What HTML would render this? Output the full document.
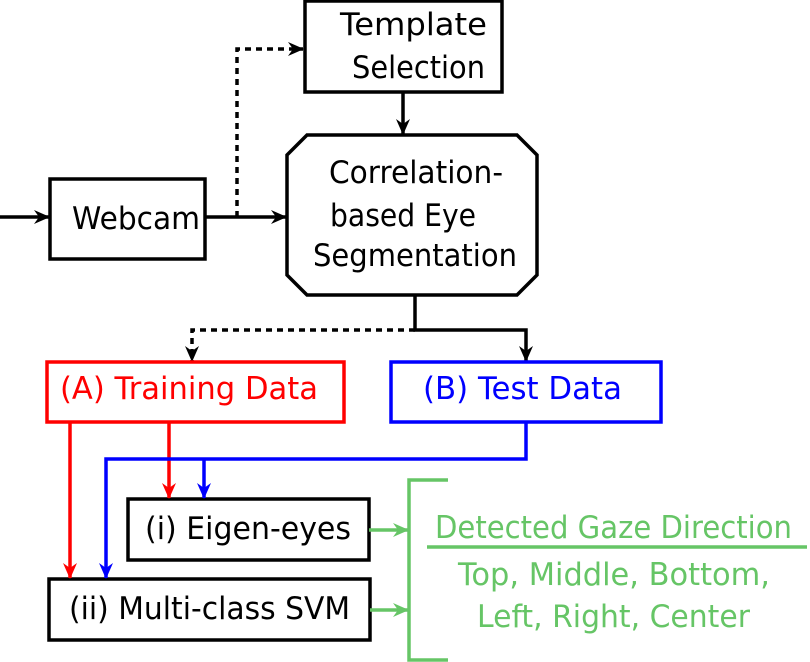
<!DOCTYPE html>
<html><head><meta charset="utf-8"><style>
html,body{margin:0;padding:0;background:#fff;}
svg{display:block;}
text{font-family:"DejaVu Sans","Liberation Sans",sans-serif;font-size:31px;}
</style></head><body>
<svg width="810" height="662" viewBox="0 0 810 662" xmlns="http://www.w3.org/2000/svg">
<defs>
<marker id="ak" markerWidth="16" markerHeight="14" refX="15" refY="7" orient="auto" markerUnits="userSpaceOnUse" viewBox="0 0 16 14"><path d="M0,0 L16,7 L0,14 L5,7 z" fill="#000"/></marker>
<marker id="ar" markerWidth="16" markerHeight="14" refX="15" refY="7" orient="auto" markerUnits="userSpaceOnUse" viewBox="0 0 16 14"><path d="M0,0 L16,7 L0,14 L5,7 z" fill="#f00"/></marker>
<marker id="ab" markerWidth="16" markerHeight="14" refX="15" refY="7" orient="auto" markerUnits="userSpaceOnUse" viewBox="0 0 16 14"><path d="M0,0 L16,7 L0,14 L5,7 z" fill="#00f"/></marker>
<marker id="ag" markerWidth="16" markerHeight="14" refX="15" refY="7" orient="auto" markerUnits="userSpaceOnUse" viewBox="0 0 16 14"><path d="M0,0 L16,7 L0,14 L5,7 z" fill="#66c566"/></marker>
</defs>
<g fill="none" stroke="#000" stroke-width="3.5">
<rect x="305" y="1" width="197" height="91"/>
<rect x="50" y="179" width="155" height="80"/>
<path d="M307,135 L517,135 L537,155 L537,275 L517,295 L307,295 L287,275 L287,155 Z"/>
<line x1="0" y1="217" x2="49" y2="217" marker-end="url(#ak)"/>
<line x1="205" y1="217" x2="286" y2="217" marker-end="url(#ak)"/>
<polyline points="237,217 237,49 303,49" stroke-dasharray="6,5" marker-end="url(#ak)"/>
<line x1="403" y1="92" x2="403" y2="134" marker-end="url(#ak)"/>
<polyline points="415,295 415,330 526,330 526,361" marker-end="url(#ak)"/>
<polyline points="415,330 192,330 192,361" stroke-dasharray="6,5" marker-end="url(#ak)"/>
<rect x="128" y="499" width="241" height="61"/>
<rect x="49" y="579" width="321" height="61"/>
</g>
<g fill="none" stroke="#f00" stroke-width="3.5">
<rect x="47" y="362" width="297" height="60"/>
<line x1="70" y1="422" x2="70" y2="578" marker-end="url(#ar)"/>
<line x1="169" y1="422" x2="169" y2="498" marker-end="url(#ar)"/>
</g>
<g fill="none" stroke="#00f" stroke-width="3.5">
<rect x="391" y="362" width="270" height="60"/>
<polyline points="526,422 526,459 106,459 106,578" marker-end="url(#ab)"/>
<polyline points="204,459 204,498" marker-end="url(#ab)"/>
</g>
<g fill="none" stroke="#66c566" stroke-width="3.5">
<line x1="369" y1="530" x2="408" y2="530" marker-end="url(#ag)"/>
<line x1="370" y1="610" x2="408" y2="610" marker-end="url(#ag)"/>
<polyline points="448,480 409,480 409,660 448,660"/>
<line x1="427" y1="547" x2="807" y2="547"/>
</g>
<g fill="#000">
<text x="340" y="35" textLength="147" lengthAdjust="spacingAndGlyphs">Template</text>
<text x="352" y="78" textLength="133" lengthAdjust="spacingAndGlyphs">Selection</text>
<text x="72" y="229" textLength="128" lengthAdjust="spacingAndGlyphs">Webcam</text>
<text x="329" y="183" textLength="174" lengthAdjust="spacingAndGlyphs">Correlation-</text>
<text x="330" y="226" textLength="146" lengthAdjust="spacingAndGlyphs">based Eye</text>
<text x="313" y="266" textLength="204" lengthAdjust="spacingAndGlyphs">Segmentation</text>
<text x="145" y="539" textLength="206" lengthAdjust="spacingAndGlyphs">(i) Eigen-eyes</text>
<text x="69" y="619" textLength="281" lengthAdjust="spacingAndGlyphs">(ii) Multi-class SVM</text>
</g>
<text x="60" y="399" fill="#f00" textLength="258" lengthAdjust="spacingAndGlyphs">(A) Training Data</text>
<text x="423" y="399" fill="#00f" textLength="199" lengthAdjust="spacingAndGlyphs">(B) Test Data</text>
<g fill="#66c566">
<text x="435" y="538" textLength="357" lengthAdjust="spacingAndGlyphs">Detected Gaze Direction</text>
<text x="458" y="585" textLength="312" lengthAdjust="spacingAndGlyphs">Top, Middle, Bottom,</text>
<text x="477" y="627" textLength="273" lengthAdjust="spacingAndGlyphs">Left, Right, Center</text>
</g>
</svg>
</body></html>
